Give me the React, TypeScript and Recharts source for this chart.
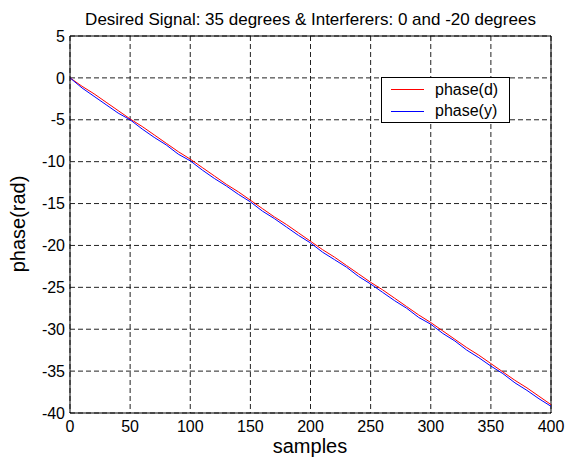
import {
  CartesianGrid,
  Line,
  LineChart,
  ReferenceLine,
  XAxis,
  YAxis,
} from "recharts";

const samples = [
  0, 10, 20, 30, 40, 50, 60, 70, 80, 90, 100, 110, 120, 130, 140, 150, 160, 170, 180, 190, 200,
  210, 220, 230, 240, 250, 260, 270, 280, 290, 300, 310, 320, 330, 340, 350, 360, 370, 380, 390, 400,
];

const phaseD = [
  0, -1.0, -1.9, -2.9, -3.9, -4.9, -5.8, -6.8, -7.8, -8.8, -9.7, -10.7, -11.7, -12.7, -13.6, -14.6,
  -15.6, -16.6, -17.5, -18.5, -19.5, -20.5, -21.4, -22.4, -23.4, -24.4, -25.3, -26.3, -27.3, -28.3,
  -29.2, -30.2, -31.2, -32.2, -33.1, -34.1, -35.1, -36.1, -37.0, -38.0, -39.0,
];

const phaseY = [
  0, -1.2, -2.2, -3.2, -4.2, -5.0, -6.1, -7.1, -8.0, -9.1, -9.9, -11.0, -12.0, -12.9, -13.9, -14.8,
  -15.9, -16.8, -17.8, -18.8, -19.7, -20.8, -21.7, -22.6, -23.7, -24.6, -25.6, -26.6, -27.5, -28.6,
  -29.4, -30.5, -31.4, -32.5, -33.4, -34.4, -35.3, -36.4, -37.3, -38.3, -39.2,
];

const xTicks = [0, 50, 100, 150, 200, 250, 300, 350, 400];
const yTicks = [-40, -35, -30, -25, -20, -15, -10, -5, 0, 5];

const data = samples.map((sample, i) => ({ sample, d: phaseD[i], y: phaseY[i] }));

const font = '"Liberation Sans", Arial, Helvetica, sans-serif';

function App() {
  return (
    <div style={{ position: "absolute", left: 0, top: 0, width: 566, height: 459, fontFamily: font, background: "#fff" }}>
      <div
        style={{
          position: "absolute",
          left: 70,
          top: 11,
          width: 481,
          textAlign: "center",
          fontSize: 17,
          lineHeight: "17px",
          color: "#000",
        }}
      >
        Desired Signal: 35 degrees &amp; Interferers: 0 and -20 degrees
      </div>
      <LineChart width={566} height={459} data={data} margin={{ top: 36, right: 15, bottom: 0, left: 0 }}>
        <CartesianGrid stroke="#222" strokeDasharray="5 3" />
        <XAxis
          dataKey="sample"
          type="number"
          domain={[0, 400]}
          ticks={xTicks}
          height={46}
          tickSize={0}
          tickMargin={8}
          axisLine={{ stroke: "#000" }}
          tick={{ fill: "#000", fontSize: 16, fontFamily: font }}
          label={{
            content: () => (
              <text x={310} y={453} textAnchor="middle" fontSize={20} fontFamily={font} fill="#000">
                samples
              </text>
            ),
          }}
        />
        <YAxis
          type="number"
          domain={[-40, 5]}
          ticks={yTicks}
          width={70}
          tickSize={0}
          tickMargin={5}
          axisLine={{ stroke: "#000" }}
          tick={{ fill: "#000", fontSize: 16, fontFamily: font }}
          label={{
            content: () => (
              <text
                x={25}
                y={224}
                transform="rotate(-90 25 224)"
                textAnchor="middle"
                fontSize={20}
                fontFamily={font}
                fill="#000"
              >
                phase(rad)
              </text>
            ),
          }}
        />
        <ReferenceLine y={5} stroke="#000" />
        <ReferenceLine x={400} stroke="#000" />
        <Line dataKey="d" stroke="#ff0000" strokeWidth={1} dot={false} isAnimationActive={false} />
        <Line dataKey="y" stroke="#0000ff" strokeWidth={1} dot={false} isAnimationActive={false} />
      </LineChart>
      <div
        style={{
          position: "absolute",
          left: 381,
          top: 77,
          width: 127,
          height: 44,
          border: "1px solid #000",
          background: "#fff",
          fontSize: 16,
          color: "#000",
        }}
      >
        <svg width={127} height={44} style={{ position: "absolute", left: 0, top: 0 }}>
          <line x1={9} y1={11.5} x2={42} y2={11.5} stroke="#ff0000" strokeWidth={1.2} />
          <line x1={9} y1={33.5} x2={42} y2={33.5} stroke="#0000ff" strokeWidth={1.2} />
        </svg>
        <div style={{ position: "absolute", left: 53, top: 2, lineHeight: "19px" }}>phase(d)</div>
        <div style={{ position: "absolute", left: 53, top: 23, lineHeight: "19px" }}>phase(y)</div>
      </div>
    </div>
  );
}

export default App;
